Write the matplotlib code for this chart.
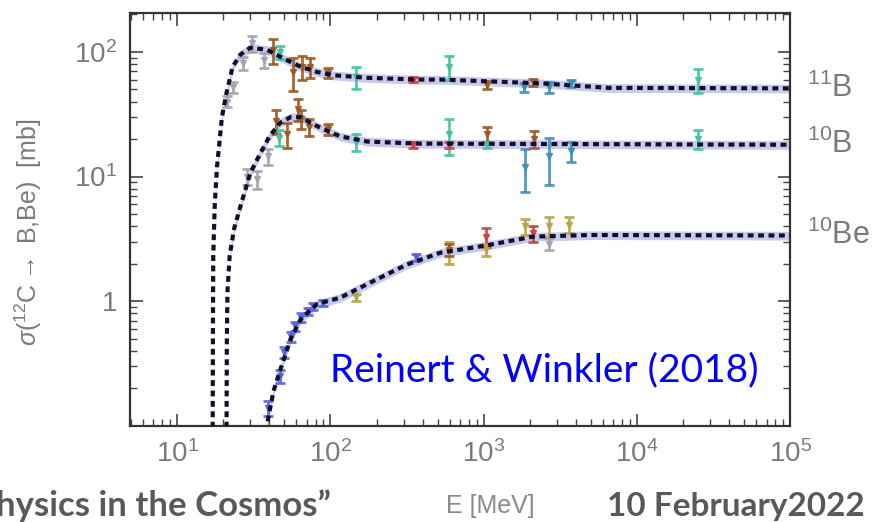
import numpy as np
import matplotlib
matplotlib.use("Agg")
import matplotlib.pyplot as plt

plt.rcParams["mathtext.fontset"] = "custom"
plt.rcParams["mathtext.rm"] = "Liberation Sans"
plt.rcParams["mathtext.it"] = "Liberation Sans:italic"
plt.rcParams["mathtext.sf"] = "Liberation Sans"
plt.rcParams["font.family"] = "Liberation Sans"

# --- curves (model fits) ---
e_b11 = [17.05, 17.12, 17.2, 17.6, 18.2, 19.6, 21, 23, 25.8, 30, 38.7, 49, 64, 82, 104, 174, 370, 520, 2350, 6500, 1e5]
s_b11 = [0.08, 0.6, 2.3, 6.0, 12, 30, 47, 76, 95, 108, 104, 89, 76, 69, 65, 62, 60, 60, 56, 51.5, 51]

e_b10 = [21.0, 21.1, 21.3, 22, 23.5, 25.8, 30, 35, 40, 47, 55, 64, 74, 90, 116, 174, 370, 1e5]
s_b10 = [0.08, 0.5, 1.2, 2.3, 3.8, 5.7, 10.7, 15.5, 21, 27, 30, 30, 27, 24, 21, 19.1, 18.4, 18]

e_be10 = [38.0, 39, 42.5, 47, 55, 64, 82, 116, 190, 315, 520, 1030, 2100, 5000, 1e5]
s_be10 = [0.09, 0.11, 0.19, 0.28, 0.5, 0.72, 0.95, 1.07, 1.45, 1.97, 2.45, 2.8, 3.3, 3.4, 3.37]

# --- measurements: energy [MeV], cross section [mb], error [mb], colour group ---
b11_e = [21, 23, 27, 31, 37, 42, 47, 57, 65, 74, 97, 146, 348, 590, 1050, 1830, 2100, 2650, 3700, 25000]
b11_s = [40, 52, 81, 117, 86, 104, 100, 69, 76, 76, 68, 63, 60, 76, 54, 52, 57, 52, 56, 60]
b11_err = [4, 5, 10, 18, 12, 24, 12, 20, 16, 14, 6, 13, 3, 16, 4, 4, 4, 5, 4, 13]
b11_grp = ["gray", "gray", "gray", "gray", "gray", "brown", "teal", "brown", "brown", "brown",
           "brown", "teal", "red", "teal", "brown", "steel", "brown", "steel", "steel", "teal"]

b10_e = [28.5, 33, 39, 44, 46, 52, 61, 64, 72, 97, 146, 348, 590, 590, 1050, 1050, 1870, 2130, 2650, 3700, 25000]
b10_s = [10, 9.5, 14.5, 28, 20.5, 22, 35, 29, 25, 24, 19, 18, 22, 18, 22, 18, 12, 20, 14.5, 16, 20]
b10_err = [1.5, 1.5, 2, 6, 3, 5, 7, 5, 4, 2.5, 3, 1, 7, 1, 3, 1, 4.5, 3, 6, 3, 3.5]
b10_grp = ["gray", "gray", "gray", "brown", "teal", "brown", "brown", "brown", "brown", "brown",
           "teal", "red", "teal", "red", "brown", "teal", "steel", "brown", "steel", "steel", "teal"]

be10_e = [39, 47, 50, 55, 59, 64, 71, 77, 89, 146, 360, 590, 590, 1030, 1030, 1870, 2100, 2650, 2650, 3600]
be10_s = [0.14, 0.25, 0.39, 0.52, 0.63, 0.74, 0.83, 0.91, 0.97, 1.08, 2.25, 2.5, 2.6, 3.3, 2.6, 4.0, 3.5, 4.0, 2.9, 4.1]
be10_err = [0.02, 0.03, 0.04, 0.05, 0.05, 0.06, 0.06, 0.06, 0.06, 0.07, 0.15, 0.5, 0.3, 0.6, 0.3, 0.6, 0.5, 0.7, 0.3, 0.6]
be10_grp = ["blue", "blue", "blue", "blue", "blue", "blue", "blue", "blue", "blue", "olive", "blue",
            "olive", "brown", "red", "olive", "olive", "red", "olive", "gray", "olive"]

isotope_labels = [r"$^{11}$B", r"$^{10}$B", r"$^{10}$Be"]
isotope_label_y = [51, 18, 3.37]

colors = {
    "gray": "#a4a4ae",
    "brown": "#9b5a22",
    "teal": "#3fc4a0",
    "red": "#c8403c",
    "steel": "#3f8fb8",
    "blue": "#5565e0",
    "olive": "#b8a448",
}

fig = plt.figure(figsize=(8.88, 5.22), dpi=100)
ax = fig.add_axes([0.146, 0.184, 0.744, 0.791])
ax.set_xscale("log")
ax.set_yscale("log")
ax.set_xlim(4.9, 1e5)
ax.set_ylim(0.1, 205)

# error bands around the fits
for e, s in [(e_b11, s_b11), (e_b10, s_b10), (e_be10, s_be10)]:
    e = np.array(e)
    s = np.array(s)
    ax.fill_between(e, s * 0.92, s * 1.08, color="#c9c9ec", lw=0, zorder=1)

# data points
for es, ss, errs, grps in [(b11_e, b11_s, b11_err, b11_grp),
                           (b10_e, b10_s, b10_err, b10_grp),
                           (be10_e, be10_s, be10_err, be10_grp)]:
    for e, s, err, g in zip(es, ss, errs, grps):
        ax.errorbar(e, s, yerr=err, fmt="v", ms=4.5, color=colors[g],
                    ecolor=colors[g], elinewidth=2, capsize=3.5, capthick=2,
                    alpha=0.9, zorder=2)

# dotted fit curves
for e, s in [(e_b11, s_b11), (e_b10, s_b10), (e_be10, s_be10)]:
    ax.plot(e, s, color="#10102a", lw=3, ls=(0, (1.4, 1.1)), zorder=3)

# axes styling
for sp in ax.spines.values():
    sp.set_color("#333333")
    sp.set_linewidth(1.6)
ax.tick_params(which="both", direction="in", top=True, right=True, colors="#444444",
               labelcolor="#7a7a7a", labelsize=20)
ax.tick_params(which="major", length=9, width=1.2)
ax.tick_params(which="minor", length=5, width=1)
ax.tick_params(axis="x", pad=10)
ax.tick_params(axis="y", pad=9)

ax.set_xticks([1e1, 1e2, 1e3, 1e4, 1e5])
ax.set_xticklabels([r"$10^1$", r"$10^2$", r"$10^3$", r"$10^4$", r"$10^5$"])
ax.set_yticks([1, 10, 100])
ax.set_yticklabels(["1", r"$10^1$", r"$10^2$"])

ax.set_ylabel(r"$\sigma$($^{12}$C$\rightarrow$ B,Be)  [mb]", color="#7a7a7a", fontsize=18)
ax.yaxis.set_label_coords(-0.13, 0.47)

for lab, y in zip(isotope_labels, isotope_label_y):
    ax.text(1.025, y, lab, transform=ax.get_yaxis_transform(), color="#7a7a7a",
            fontsize=22, va="center", ha="left")

ax.text(0.303, 0.135, "Reinert & Winkler (2018)", transform=ax.transAxes,
        color="#0000ff", fontsize=28, family="Lato", va="center", ha="left")

# slide footer
fig.text(-0.004, 0.012, "hysics in the Cosmos\u201d", color="#595959", fontsize=25,
         family="Lato", weight="bold", ha="left", va="baseline")
fig.text(0.552, 0.03, "E [MeV]", color="#8a8a8a", fontsize=18,
         ha="center", va="center")
fig.text(0.683, 0.012, "10 February2022", color="#595959", fontsize=24,
         family="Lato", weight="bold", ha="left", va="baseline")

fig.savefig("out.png", dpi=100)
